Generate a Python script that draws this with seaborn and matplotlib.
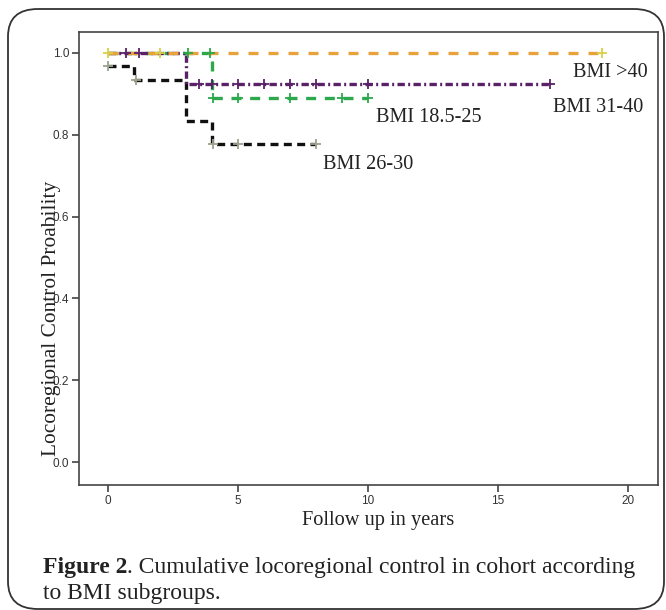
import numpy as np
import pandas as pd
import seaborn as sns
import matplotlib.pyplot as plt
from matplotlib.patches import FancyBboxPatch

# Kaplan-Meier steps (time in years, survival prob)
groups = ['BMI >40', 'BMI 31-40', 'BMI 18.5-25', 'BMI 26-30']
step_times = {
    'BMI >40': [0, 19],
    'BMI 31-40': [0, 3, 17],
    'BMI 18.5-25': [0, 4, 10],
    'BMI 26-30': [0, 1, 3, 4, 8],
}
step_surv = {
    'BMI >40': [1.0, 1.0],
    'BMI 31-40': [1.0, 0.925, 0.925],
    'BMI 18.5-25': [1.0, 0.889, 0.889],
    'BMI 26-30': [0.967, 0.933, 0.833, 0.778, 0.778],
}
# censored observations
censor_times = {
    'BMI >40': [0, 2, 19],
    'BMI 31-40': [0.7, 1.2, 3.5, 4, 5, 6, 7, 8, 10, 17],
    'BMI 18.5-25': [3.1, 3.95, 4.05, 5, 7, 9, 10],
    'BMI 26-30': [0, 1.1, 4.05, 5, 8],
}
label_pos = {
    'BMI >40': (17.9, 0.951),
    'BMI 31-40': (17.1, 0.866),
    'BMI 18.5-25': (10.3, 0.843),
    'BMI 26-30': (8.27, 0.726),
}

line_col = {'BMI >40': '#E9A23B', 'BMI 31-40': '#5A2168',
            'BMI 18.5-25': '#2DA84D', 'BMI 26-30': '#111111'}
cens_col = {'BMI >40': '#D8D046', 'BMI 31-40': '#5A2168',
            'BMI 18.5-25': '#2DA84D', 'BMI 26-30': '#9AA38C'}
dash = {'BMI >40': (3, 3), 'BMI 31-40': (2.2, 1, 0.6, 1),
        'BMI 18.5-25': (3, 2.6), 'BMI 26-30': (2.4, 1.6)}

sns.set_style('white')
serif = ['Liberation Serif', 'DejaVu Serif']

fig = plt.figure(figsize=(6.66, 6.10), dpi=100)
ax = fig.add_axes([0.1186, 0.205, 0.8694, 0.7426])

for g in ['BMI 26-30', 'BMI 18.5-25', 'BMI 31-40', 'BMI >40']:
    df = pd.DataFrame({'t': step_times[g], 's': step_surv[g]})
    sns.lineplot(data=df, x='t', y='s', ax=ax, drawstyle='steps-post',
                 color=line_col[g], linewidth=2.4, dashes=False, estimator=None)
    ax.lines[-1].set_dashes(dash[g])
    ct = np.array(censor_times[g])
    idx = np.searchsorted(step_times[g], ct, side='right') - 1
    cs = np.array(step_surv[g])[idx]
    sns.scatterplot(x=ct, y=cs, ax=ax, marker='+', s=45, linewidth=1.3,
                    color=cens_col[g], zorder=5)
    ax.text(label_pos[g][0], label_pos[g][1], g, fontsize=14.6,
            family=serif, color='#222222', va='center', ha='left')

ax.set_xlim(-1.1, 21.15)
ax.set_ylim(-0.056, 1.051)
ax.set_xticks([0, 5, 10, 15, 20])
ax.set_yticks([0.0, 0.2, 0.4, 0.6, 0.8, 1.0])
ax.set_yticklabels(['0.0', '0.2', '0.4', '0.6', '0.8', '1.0'])
ax.tick_params(axis='both', which='both', direction='out', length=5, width=1.1,
               color='#333333', labelsize=8.5, labelcolor='#333333',
               left=True, bottom=True, pad=2)
for lab in ax.get_xticklabels() + ax.get_yticklabels():
    lab.set_family(['Liberation Sans', 'DejaVu Sans'])
for sp in ax.spines.values():
    sp.set_color('#444444')
    sp.set_linewidth(1.2)
ax.set_xlabel('')
ax.set_ylabel('')

fig.text(378 / 666, 1 - 520 / 610, 'Follow up in years', fontsize=14.7,
         family=serif, ha='center', va='center', color='#222222')
fig.text(52 / 666, 1 - 318 / 610, 'Locoregional Control Proability', fontsize=15.4,
         family=serif, rotation=90, ha='center', va='center', color='#222222')

cap1 = fig.text(43 / 666, 1 - 568 / 610, 'Figure 2', fontsize=17, family=serif,
                weight='bold', ha='left', va='center', color='#222222')
fig.canvas.draw()
bb = cap1.get_window_extent()
fig.text(bb.x1 / 666, 1 - 568 / 610,
         '. Cumulative locoregional control in cohort according', fontsize=17,
         family=serif, ha='left', va='center', color='#222222')
fig.text(43 / 666, 1 - 594 / 610, 'to BMI subgroups.', fontsize=17,
         family=serif, ha='left', va='center', color='#222222')

box = FancyBboxPatch((8 / 666, 1 - 609 / 610), 656 / 666, 600 / 610,
                     boxstyle='round,pad=0,rounding_size=0.045',
                     transform=fig.transFigure, fill=False,
                     edgecolor='#333333', linewidth=1.3)
fig.patches.append(box)

fig.savefig('out.png', dpi=100)
